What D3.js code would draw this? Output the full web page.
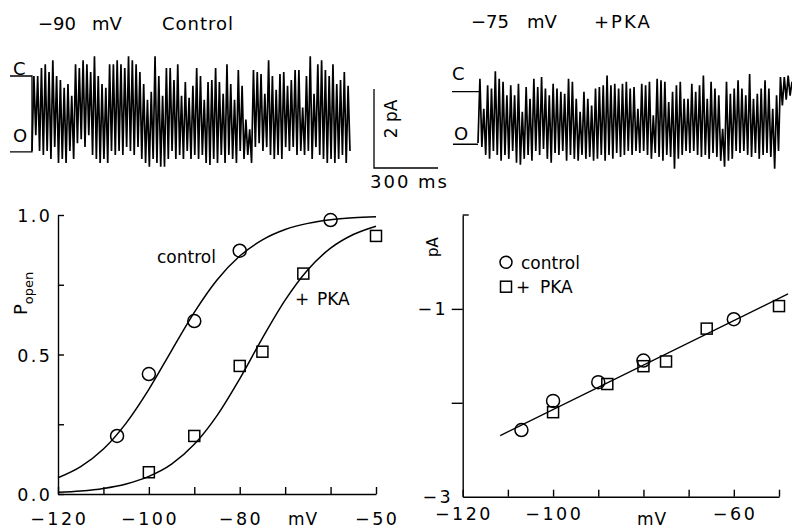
<!DOCTYPE html>
<html><head><meta charset="utf-8">
<script src="https://cdn.jsdelivr.net/npm/d3@7"></script>
<style>
body{margin:0;background:#fff}
svg text{font-family:"DejaVu Sans",sans-serif;fill:#000}
</style></head><body>
<svg id="c" width="792" height="530"></svg>
<script>
// ---------- DATA ----------
// single-channel traces (pA relative to closed level)
const traceControl = [
-1.9,0.0,-1.5,0.0,-1.9,0.2,-2.0,0.3,-1.9,0.1,-2.1,0.4,-1.8,0.0,-2.2,-0.1,-2.1,-0.3,-2.2,-0.2,-1.9,-0.5,-2.1,0.3,-1.7,0.2,-1.6,0.4,-1.8,0.3,-1.5,0.1,-2.0,0.5,-2.1,0.0,-2.2,-0.2,-2.1,-0.3,-2.2,0.3,-1.9,0.3,-2.0,0.4,-1.9,0.3,-2.0,0.2,-1.8,0.5,-1.9,0.4,-2.0,0.3,-1.8,0.1,-2.1,-0.2,-2.2,-0.6,-2.3,-0.4,-2.1,0.5,-2.2,0.0,-2.3,-0.5,-2.3,0.2,-2.1,0.2,-1.9,-0.1,-2.1,0.3,-2.0,-0.5,-2.1,
-0.15,-1.9,-0.55,-2.1,-0.25,-2.0,0.2,-2.1,0.0,-2.0,-0.6,-2.2,-0.15,-2.25,-0.1,-2.1,0.2,-2.2,-0.15,-2.0,-0.45,-2.2,0.3,-2.0,-0.2,-2.1,-0.6,-2.2,0.15,-1.9,-0.25,-2.1,-1.1,-2.0,-1.35,-2.2,0.15,-1.8,0.1,-1.7,0.05,-1.9,-0.45,-1.8,0.4,-2.0,0.0,-2.1,-0.35,-2.0,0.05,-2.1,0.1,-1.8,-0.25,-1.9,-0.1,-1.8,0.15,-2.0,0.15,-1.9,-0.8,-2.0,0.0,-1.9,0.5,-2.1,-0.45,-1.8,0.3,-2.0,0.4,-2.1,0.15,-2.2,0.0,-2.1,0.3,-2.2,-0.2,-2.1,-0.1,-2.0,0.1,-2.2,-0.25,-1.9
];
const tracePKA = [
-1.3,0.33,-1.4,-0.43,-1.6,0.16,-1.7,0.08,-1.5,0.52,-1.6,0.33,-1.75,0.25,-1.6,-0.09,-1.7,0.16,-1.5,-0.09,-1.8,0.2,-1.85,-0.51,-1.7,0.12,-1.6,-0.18,-1.75,0.33,-1.5,0.12,-1.6,0.37,-1.45,0.08,-1.7,-0.09,-1.8,0.2,-1.55,0.08,-1.6,0.0,-1.5,-0.05,-1.75,0.33,-1.6,0.25,-1.7,-0.18,-1.75,-0.51,-1.6,0.0,-1.7,-0.18,-1.65,-0.35,-1.75,0.08,-1.7,0.12,-1.6,0.16,-1.75,0.41,-1.6,0.16,-1.7,0.2,-1.55,0.08,-1.65,0.2,-1.6,0.25,-1.5,0.08,-1.6,
0.12,-1.5,-0.43,-1.55,0.2,-1.5,0.16,-1.6,0.25,-1.7,-0.6,-1.55,0.33,-1.65,0.29,-1.75,0.25,-1.6,-0.26,-1.65,0.0,-1.95,0.16,-1.7,0.25,-1.6,-0.18,-1.5,-0.18,-1.55,0.2,-1.5,0.0,-1.6,0.16,-1.65,0.41,-1.6,-0.18,-1.7,0.25,-1.55,0.08,-1.65,-0.09,-1.75,-0.94,-1.9,0.25,-1.75,-0.05,-1.7,0.08,-1.5,0.29,-1.55,0.08,-1.5,-0.09,-1.6,0.45,-1.65,-0.18,-1.55,-0.05,-1.7,0.08,-1.6,0.29,-1.55,0.08,-1.65,-0.43,-1.95,-0.09,-1.5,0.37,-0.35,0.37,-0.2,0.41,-0.1,0.25
];
// Popen vs voltage
const voltageTicks = [-120,-110,-100,-90,-80,-70,-60,-50];
const popenTicks = [0,0.25,0.5,0.75,1];
const popenLabels = [0,0.5,1];
const popenXLabels = [-120,-100,-80,-50];
const popenCtrlV = [-107,-100,-90,-80,-60];
const popenCtrl  = [0.208,0.43,0.62,0.872,0.982];
const popenPkaV  = [-100,-90,-80,-75,-66,-50];
const popenPka   = [0.078,0.208,0.459,0.51,0.79,0.925];
const fitV    = [-120,-115,-110,-105,-100,-95,-90,-85,-80,-75,-70,-65,-60,-55,-50];
const fitCtrl = [0.058,0.098,0.161,0.254,0.375,0.514,0.651,0.767,0.853,0.911,0.948,0.970,0.983,0.990,0.994];
const fitPka  = [0.006,0.011,0.020,0.036,0.063,0.107,0.178,0.281,0.413,0.559,0.695,0.804,0.881,0.930,0.960];
// single-channel current vs voltage
const ivYTicks = [-1,-2];
const ivYLabels = [-1,-3];
const ivXLabels = [-120,-100,-60];
const ivCtrlV = [-107,-100,-90,-80,-60];
const ivCtrl  = [-2.29,-1.98,-1.78,-1.55,-1.11];
const ivPkaV  = [-100,-88,-80,-75,-66,-50];
const ivPka   = [-2.10,-1.80,-1.61,-1.56,-1.21,-0.97];
const ivFitV  = [-111.7,-48];
const ivFit   = [-2.35,-0.84];

// ---------- DRAW ----------
const svg = d3.select("#c");
svg.append("rect").attr("width",792).attr("height",530).attr("fill","#fff");
const fmt = d3.format("");
const fmt1 = d3.format(".1f");

function txt(x,y,s,size,opts={}){
  const t = svg.append("text").attr("x",x).attr("y",y).attr("font-size",size).text(s);
  if(opts.anchor) t.attr("text-anchor",opts.anchor);
  if(opts.ls) t.attr("letter-spacing",opts.ls);
  if(opts.dx) t.attr("dx",opts.dx);
  if(opts.rot) t.attr("transform",`rotate(-90,${x},${y})`);
  return t;
}

// ----- traces -----
function drawTrace(vals, x0, x1, yC){
  const x = d3.scaleLinear().domain([0, vals.length-1]).range([x0, x1]);
  const y = d3.scaleLinear().domain([0,-2]).range([yC, yC+79]);
  svg.append("path").datum(vals)
    .attr("d", d3.line().x((d,i)=>x(i)).y(d=>y(d)))
    .attr("fill","none").attr("stroke","#000").attr("stroke-width",1.7)
    .attr("stroke-linejoin","miter");
  return y;
}
const yT1 = drawTrace(traceControl, 32, 350, 76);
const yT2 = drawTrace(tracePKA, 478, 792, 91.7);
// C/O markers
svg.append("path").attr("d",`M10,${yT1(0)}H32V${yT1(-1.92)}H10`).attr("fill","none").attr("stroke","#000").attr("stroke-width",1.3);
svg.append("path").attr("d",`M452,${yT2(0)}H481M453,${yT2(-1.33)}H478`).attr("fill","none").attr("stroke","#000").attr("stroke-width",1.3);
txt(13,75,"C",18); txt(13,142,"O",18);
txt(452,80,"C",18); txt(454,140,"O",18);
// scale bar
const sbT = d3.scaleLinear().domain([0,300]).range([374,438]);
const sbA = d3.scaleLinear().domain([0,2]).range([168,89]);
svg.append("path").attr("d",`M${sbT(0)},${sbA(2)}V${sbA(0)}H${sbT(300)}`).attr("fill","none").attr("stroke","#000").attr("stroke-width",1.3);
txt(397,119,"2 pA",17,{anchor:"middle",rot:true});
txt(370,188,"300 ms",18,{ls:2});
// titles
txt(38,30,"−90",18); txt(92,30,"mV",18); txt(162,30,"Control",18,{ls:1});
txt(471,28,"−75",18); txt(527,28,"mV",18); txt(594,28,"+PKA",18,{ls:2});

function styleAxis(g){
  g.selectAll("path,line").attr("stroke","#000").attr("stroke-width",1.4);
  g.selectAll("text").remove();
}

// ----- left panel: Popen -----
const xL = d3.scaleLinear().domain([-120,-50]).range([58,376]);
const yL = d3.scaleLinear().domain([0,1]).range([494,215]);
svg.append("g").attr("transform","translate(0,494)")
  .call(d3.axisBottom(xL).tickValues(voltageTicks).tickSizeInner(-7).tickSizeOuter(0)).call(styleAxis);
svg.append("g").attr("transform","translate(58,0)")
  .call(d3.axisLeft(yL).tickValues(popenTicks).tickSizeInner(-6).tickSizeOuter(0)).call(styleAxis);
popenXLabels.forEach(v=>txt(xL(v),525,fmt(v),17.5,{anchor:"middle",ls:2.5,dx:1.25}));
popenLabels.forEach(v=>txt(50,yL(v)+7,fmt1(v),17.5,{anchor:"end",ls:2.5,dx:2.5}));
txt(288,525,"mV",17,{ls:1});
// Popen label
{
  const t = svg.append("text").attr("transform","translate(27,315) rotate(-90)").attr("font-size",18);
  t.append("tspan").text("P");
  t.append("tspan").attr("font-size",13).attr("dy",6).text("open");
}
const lineL = (vals)=>d3.line().curve(d3.curveMonotoneX).x((d,i)=>xL(fitV[i])).y(d=>yL(d))(vals);
svg.append("path").attr("d",lineL(fitCtrl)).attr("fill","none").attr("stroke","#000").attr("stroke-width",1.5);
svg.append("path").attr("d",lineL(fitPka)).attr("fill","none").attr("stroke","#000").attr("stroke-width",1.5);
svg.selectAll(null).data(popenCtrl).enter().append("circle")
  .attr("cx",(d,i)=>xL(popenCtrlV[i])).attr("cy",d=>yL(d)).attr("r",6.5)
  .attr("fill","none").attr("stroke","#000").attr("stroke-width",1.5);
svg.selectAll(null).data(popenPka).enter().append("rect")
  .attr("x",(d,i)=>xL(popenPkaV[i])-5.5).attr("y",d=>yL(d)-5.5).attr("width",11).attr("height",11)
  .attr("fill","none").attr("stroke","#000").attr("stroke-width",1.5);
txt(157,263,"control",17);
txt(295,305,"+",17); txt(317,305,"PKA",17);

// ----- right panel: I-V -----
const xR = d3.scaleLinear().domain([-120,-50]).range([462.7,779]);
const yR = d3.scaleLinear().domain([-3,0]).range([496.7,215]);
svg.append("g").attr("transform","translate(0,496.7)")
  .call(d3.axisBottom(xR).tickValues(voltageTicks).tickSizeInner(-7).tickSizeOuter(0)).call(styleAxis);
svg.append("g").attr("transform","translate(462.7,0)")
  .call(d3.axisLeft(yR).tickValues(ivYTicks).tickSizeInner(11).tickSizeOuter(0)).call(styleAxis);
svg.append("line").attr("x1",xR(-120)).attr("x2",xR(-120)+6).attr("y1",yR(0)).attr("y2",yR(0)).attr("stroke","#000").attr("stroke-width",1.4);
ivXLabels.forEach(v=>txt(xR(v),520,fmt(v),17.5,{anchor:"middle",ls:2.5,dx:1.25}));
ivYLabels.forEach(v=>txt(xR(-120)-(ivYTicks.includes(v)?17:12),yR(v)+6,fmt(v),17.5,{anchor:"end",ls:2.5,dx:2.5}));
txt(637,525,"mV",17,{ls:1});
txt(438,247,"pA",15,{anchor:"middle",rot:true});
svg.append("path").attr("d",d3.line().x((d,i)=>xR(ivFitV[i])).y(d=>yR(d))(ivFit))
  .attr("fill","none").attr("stroke","#000").attr("stroke-width",1.4);
svg.selectAll(null).data(ivCtrl).enter().append("circle")
  .attr("cx",(d,i)=>xR(ivCtrlV[i])).attr("cy",d=>yR(d)).attr("r",6.5)
  .attr("fill","none").attr("stroke","#000").attr("stroke-width",1.5);
svg.selectAll(null).data(ivPka).enter().append("rect")
  .attr("x",(d,i)=>xR(ivPkaV[i])-5.5).attr("y",d=>yR(d)-5.5).attr("width",11).attr("height",11)
  .attr("fill","none").attr("stroke","#000").attr("stroke-width",1.5);
// legend
svg.append("circle").attr("cx",506).attr("cy",262.3).attr("r",6).attr("fill","none").attr("stroke","#000").attr("stroke-width",1.5);
txt(521,268.5,"control",17);
svg.append("rect").attr("x",500.5).attr("y",281.2).attr("width",11).attr("height",11).attr("fill","none").attr("stroke","#000").attr("stroke-width",1.5);
txt(516,292.5,"+",17); txt(540,292.5,"PKA",17);
</script>
</body></html>
